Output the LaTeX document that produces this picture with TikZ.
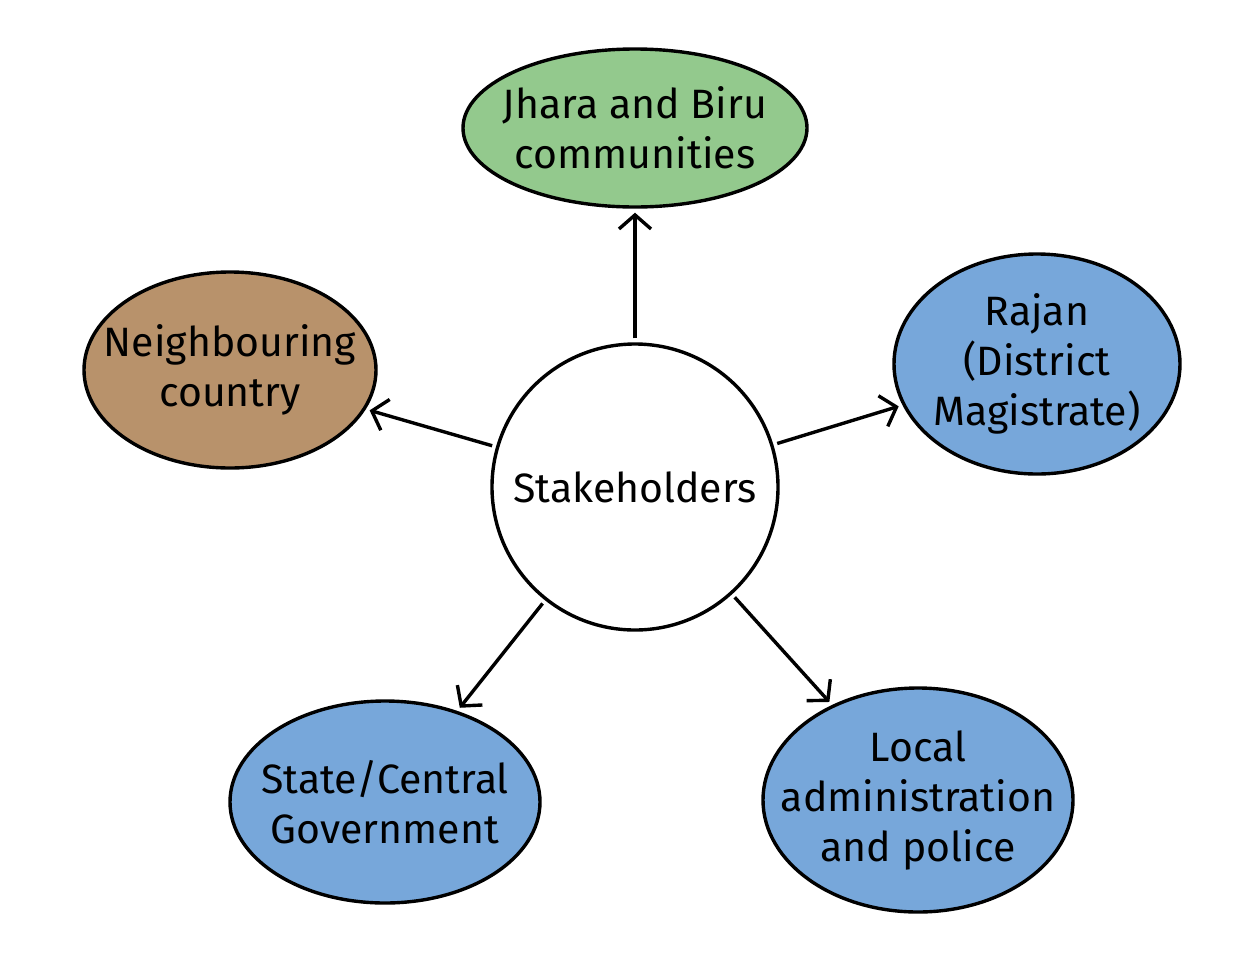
\documentclass[tikz,border=0pt]{standalone}
\usepackage{fontspec}
\setmainfont{Fira Sans}
\usetikzlibrary{shapes.geometric,arrows.meta}
\definecolor{cgreen}{RGB}{147, 201, 141}
\definecolor{cblue}{RGB}{119, 167, 218}
\definecolor{cbrown}{RGB}{184, 146, 107}

\tikzset{
  stake/.style={ellipse, draw=black, line width=3.4pt, inner sep=-40pt, align=center,
    font=\fontsize{41}{50}\selectfont},
  link/.style={line width=3.4pt, -{Straight Barb[length=14pt,width=32pt,line width=3.4pt]},
    shorten <=4pt, shorten >=4pt}
}

\begin{document}
\begin{tikzpicture}[x=1pt,y=1pt]
\useasboundingbox (0,0) rectangle (1242,-954);
\node (c) [stake, circle, inner sep=0pt, minimum size=286pt, fill=white] at (635,-487) {Stakeholders};
\node (jb) [stake, minimum width=344pt, minimum height=158pt, fill=cgreen] at (635,-128) {Jhara and Biru\\communities};
\node (rj) [stake, minimum width=286pt, minimum height=220pt, fill=cblue] at (1037,-364) {Rajan\\(District\\Magistrate)};
\node (nc) [stake, minimum width=292pt, minimum height=196pt, fill=cbrown] at (230,-370) {Neighbouring\\country};
\node (sg) [stake, minimum width=310pt, minimum height=202pt, fill=cblue] at (385,-802) {State/Central\\Government};
\node (la) [stake, minimum width=310pt, minimum height=224pt, fill=cblue] at (918,-800) {Local\\administration\\and police};
\draw [link] (c) to (jb);
\draw [link] (c) to (rj);
\draw [link] (c) to (nc);
\draw [link] (c) to (sg);
\draw [link] (c) to (la);
\end{tikzpicture}
\end{document}
